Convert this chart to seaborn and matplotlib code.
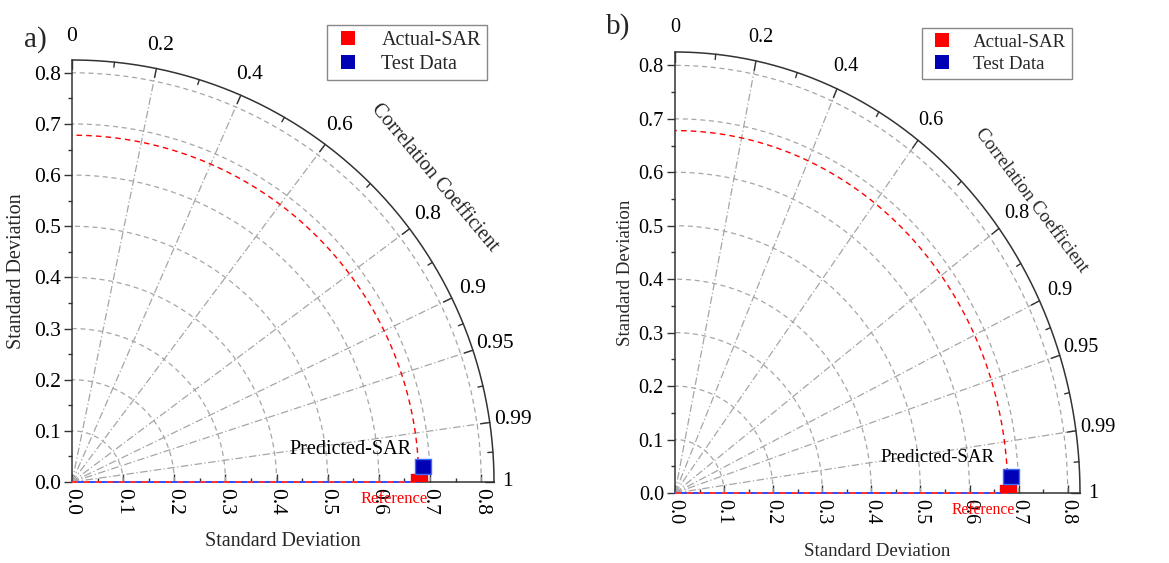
import numpy as np
import pandas as pd
import matplotlib
matplotlib.use("Agg")
import matplotlib.pyplot as plt
import seaborn as sns
from matplotlib.ticker import MultipleLocator, FixedLocator

sns.set_theme(style="white")
plt.rcParams["font.family"] = ["Liberation Serif", "DejaVu Serif"]

# ---------------- data ----------------
panel_labels = ["a)", "b)"]
series_names = ["Actual-SAR", "Test Data"]
series_colors = ["#ff0000", "#0000b4"]
ref_std = [0.678, 0.678]          # Actual-SAR (reference) std
test_std = [0.687, 0.685]         # Predicted-SAR std
test_corr = [0.9990, 0.9990]      # Predicted-SAR correlation
std_ticks = [0.0, 0.1, 0.2, 0.3, 0.4, 0.5, 0.6, 0.7, 0.8]
std_grid = [0.1, 0.2, 0.3, 0.4, 0.5, 0.6, 0.7, 0.8]
std_max = 0.825
corr_ticks = [0.0, 0.2, 0.4, 0.6, 0.8, 0.9, 0.95, 0.99, 1.0]
corr_tick_labels = ["0", "0.2", "0.4", "0.6", "0.8", "0.9", "0.95", "0.99", "1"]
corr_grid = [0.2, 0.4, 0.6, 0.8, 0.9, 0.95, 0.99]
point_label = "Predicted-SAR"
ref_label = "Reference"
arc_title = "Correlation Coefficient"
axis_title = "Standard Deviation"

# ---------------- layout (pixels) ----------------
W, H = 1169, 563
panel_px = [(72, 60, 494, 482), (675, 52, 1080, 493)]   # left, top, right, bottom
font_scale = [1.0, 0.94]
legend_anchor_px = [(487, 25), (1072, 28)]
panel_label_px = [(35, 40), (618, 27)]
pred_offset = [(-8, 12), (-12, 14)]
ylabel_x = [-0.108, -0.100]
xlabel_y = [-0.118, -0.113]
cc_angle = [40.0, 37.0]
cc_r = [0.925, 0.91]

fig = plt.figure(figsize=(W / 100, H / 100), dpi=100)
fig.patch.set_facecolor("white")

grid_col = "#a6a6a6"
axis_col = "#333333"

for i in range(2):
    l, t, r, b = panel_px[i]
    ax = fig.add_axes([l / W, 1 - b / H, (r - l) / W, (b - t) / H])
    fs = font_scale[i]
    ax.set_xlim(0, std_max)
    ax.set_ylim(0, std_max)
    ax.set_facecolor("white")

    th = np.linspace(0, np.pi / 2, 400)
    # std grid arcs
    for rr in std_grid:
        ax.plot(rr * np.cos(th), rr * np.sin(th), ls=(0, (4, 3)), color=grid_col, lw=0.9, zorder=1)
    # correlation rays
    for c in corr_grid:
        a = np.arccos(c)
        ax.plot([0, std_max * np.cos(a)], [0, std_max * np.sin(a)], ls=(0, (6, 2, 1, 2)),
                color=grid_col, lw=0.9, zorder=1)
    # reference std arc
    ax.plot(ref_std[i] * np.cos(th), ref_std[i] * np.sin(th), ls=(0, (4, 3)), color="#ff0000",
            lw=1.0, zorder=2)
    # line along corr = 1 to reference
    ax.plot([0, ref_std[i]], [0, 0], color="#3050ff", lw=1.4, zorder=4, clip_on=False)
    ax.plot([0, ref_std[i]], [0, 0], color="#ff3030", lw=1.4, ls=(0, (3, 3)), zorder=4, clip_on=False)
    # outer arc
    ax.plot(std_max * np.cos(th), std_max * np.sin(th), color=axis_col, lw=1.1, clip_on=False, zorder=3)
    # arc ticks (major + minor at angular midpoints)
    angs = np.arccos(np.array(corr_ticks))
    mids = (angs[:-1] + angs[1:]) / 2
    for a in angs:
        ax.plot([std_max * np.cos(a), (std_max - 0.018) * np.cos(a)],
                [std_max * np.sin(a), (std_max - 0.018) * np.sin(a)], color=axis_col, lw=1.0,
                clip_on=False, zorder=3)
    for a in mids:
        ax.plot([std_max * np.cos(a), (std_max - 0.010) * np.cos(a)],
                [std_max * np.sin(a), (std_max - 0.010) * np.sin(a)], color=axis_col, lw=1.0,
                clip_on=False, zorder=3)
    for a, lab in zip(angs, corr_tick_labels):
        rl = 0.87 if lab != "1" else 0.852
        ax.text(rl * np.cos(a), rl * np.sin(a), lab, ha="center", va="center",
                fontsize=15.5 * fs, color="black", clip_on=False)
    ca = np.deg2rad(cc_angle[i])
    ax.text(cc_r[i] * np.cos(ca), cc_r[i] * np.sin(ca), arc_title, rotation=-(90 - cc_angle[i]),
            rotation_mode="anchor", ha="center", va="center", fontsize=14.5 * fs, clip_on=False)

    # points
    x_test = test_std[i] * test_corr[i]
    y_test = test_std[i] * np.sqrt(1 - test_corr[i] ** 2)
    df = pd.DataFrame({"x": [ref_std[i], x_test], "y": [0.0, y_test], "series": series_names})
    sns.scatterplot(data=df, x="x", y="y", hue="series", hue_order=series_names,
                    palette=dict(zip(series_names, series_colors)), marker="s", s=125,
                    linewidth=1.0, ax=ax, zorder=5, legend=True)
    ax.collections[-1].set_edgecolors(["#ff0000", "#3a6cff"])
    handles, labels = ax.get_legend_handles_labels()
    for h in handles:
        try:
            h.set_markeredgewidth(0)
            h.set_markersize(10.5 * fs)
        except Exception:
            pass
    lx, ly = legend_anchor_px[i]
    ax.legend(handles, labels, loc="upper right", bbox_to_anchor=(lx / W, 1 - ly / H),
              bbox_transform=fig.transFigure, frameon=True, fancybox=False, framealpha=1,
              edgecolor="#888888", fontsize=14.5 * fs, handlelength=1.5, handletextpad=0.9,
              borderpad=0.3, labelspacing=0.25, borderaxespad=0)

    ax.annotate(point_label, (x_test, y_test), xytext=pred_offset[i], textcoords="offset points",
                ha="right", va="center", fontsize=14.5 * fs, color="black", zorder=6)
    ax.annotate(ref_label, (ref_std[i], 0), xytext=(-18, -12), textcoords="offset points",
                ha="center", va="center", fontsize=12 * fs, color="#ff0000", zorder=6,
                annotation_clip=False)

    # axes / ticks
    for s in ["top", "right"]:
        ax.spines[s].set_visible(False)
    for s in ["left", "bottom"]:
        ax.spines[s].set_color(axis_col)
        ax.spines[s].set_linewidth(1.1)
    ax.xaxis.set_major_locator(FixedLocator(std_ticks))
    ax.yaxis.set_major_locator(FixedLocator(std_ticks))
    ax.xaxis.set_minor_locator(MultipleLocator(0.05))
    ax.yaxis.set_minor_locator(MultipleLocator(0.05))
    ax.set_xticklabels([f"{v:.1f}" for v in std_ticks])
    ax.set_yticklabels([f"{v:.1f}" for v in std_ticks])
    ax.tick_params(axis="x", which="both", direction="in", colors=axis_col, labelcolor="black",
                   labelrotation=-90, labelsize=15.5 * fs, pad=4)
    ax.tick_params(axis="y", which="both", direction="out", colors=axis_col, labelcolor="black",
                   labelsize=15.5 * fs, pad=2)
    ax.tick_params(which="major", length=6, width=1.0, bottom=True, left=True)
    ax.tick_params(which="minor", length=3, width=1.0, bottom=True, left=True)
    ax.grid(False)
    ax.set_xlabel(axis_title, fontsize=14.5 * fs)
    ax.set_ylabel(axis_title, fontsize=14.5 * fs)
    ax.xaxis.set_label_coords(0.5, xlabel_y[i])
    ax.yaxis.set_label_coords(ylabel_x[i], 0.5)

    px, py = panel_label_px[i]
    fig.text(px / W, 1 - py / H, panel_labels[i], fontsize=21, ha="center", va="center")

fig.savefig("out.png", dpi=100, facecolor="white")
